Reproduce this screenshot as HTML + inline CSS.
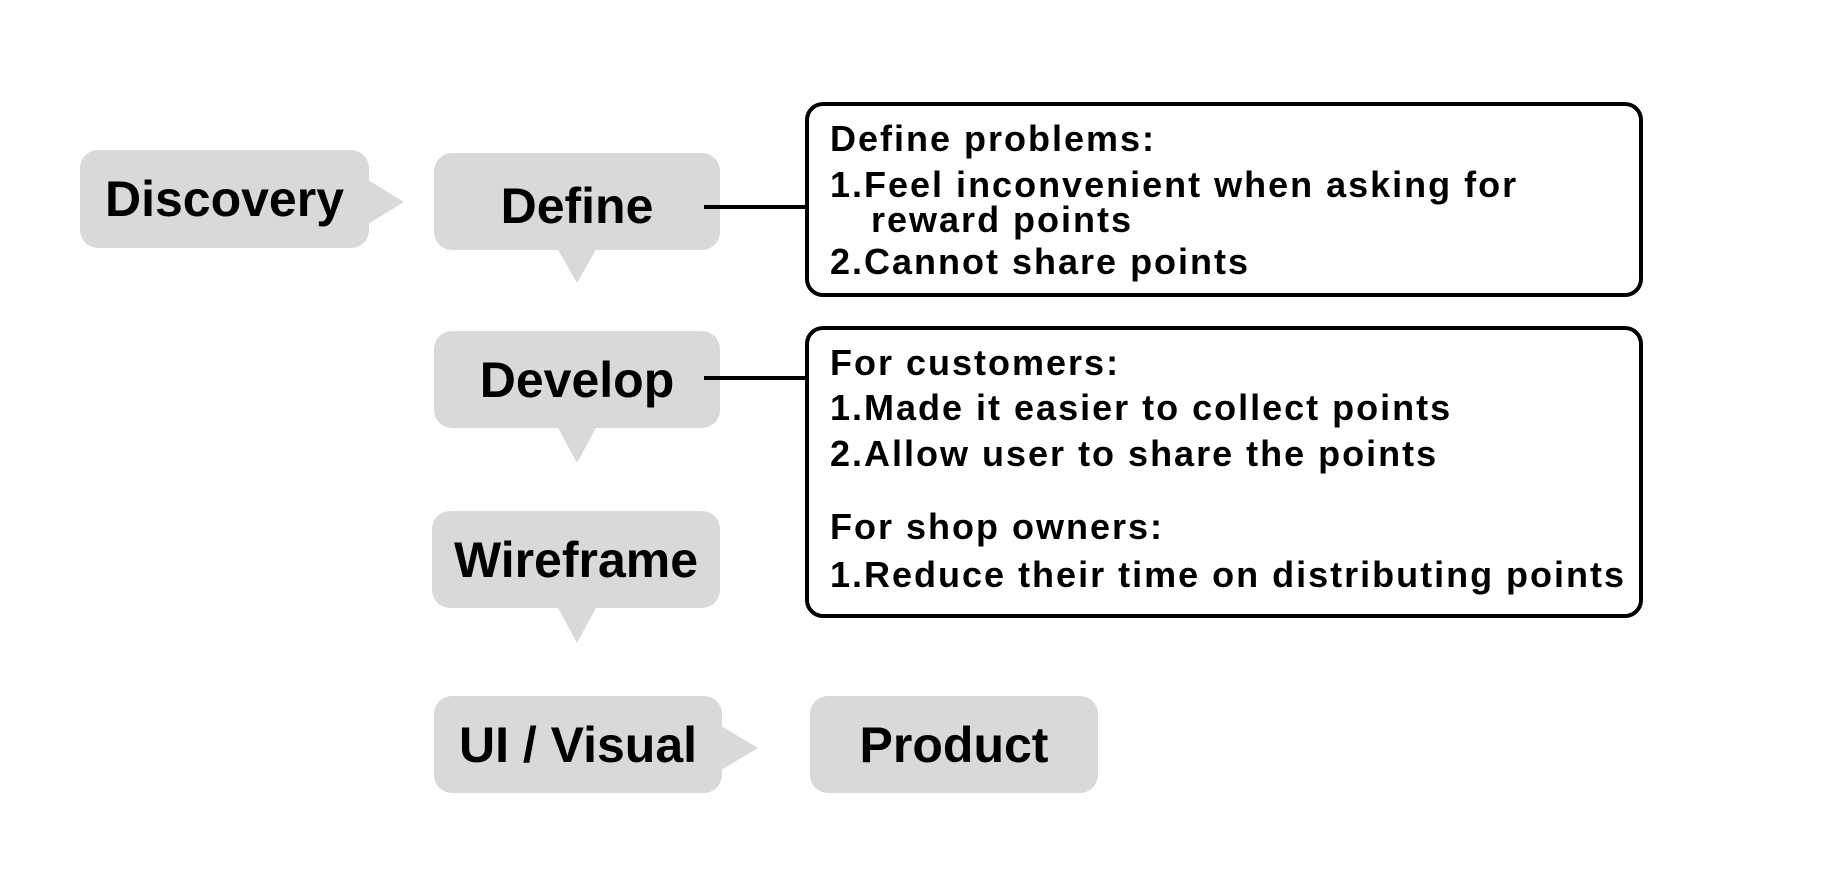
<!DOCTYPE html>
<html><head><style>
body{margin:0;width:1843px;height:883px;background:#fff;position:relative;overflow:hidden;font-family:"Liberation Sans",sans-serif;font-weight:bold;}
.n{position:absolute;background:#d9d9d9;border-radius:18px;font-size:50px;color:#000;display:flex;align-items:center;justify-content:center;}
.t{position:absolute;font-size:36px;line-height:40px;letter-spacing:2px;white-space:nowrap;color:#000;}
.b{position:absolute;border:4px solid #000;border-radius:18px;box-sizing:border-box;}
</style></head><body>
<div class="n" style="left:80px;top:150px;width:289px;height:98px">Discovery</div>
<div class="n" style="left:434px;top:153px;width:286px;height:97px;padding-top:8px;box-sizing:border-box">Define</div>
<div class="n" style="left:434px;top:331px;width:286px;height:97px">Develop</div>
<div class="n" style="left:432px;top:511px;width:288px;height:97px">Wireframe</div>
<div class="n" style="left:434px;top:696px;width:288px;height:97px">UI / Visual</div>
<div class="n" style="left:810px;top:696px;width:288px;height:97px">Product</div>
<svg width="1843" height="883" style="position:absolute;left:0;top:0">
<g fill="#d9d9d9">
<polygon points="368,180 404,202 368,224"/>
<polygon points="557,248 597,248 577,283"/>
<polygon points="557,426 597,426 577,463"/>
<polygon points="557,606 597,606 577,643"/>
<polygon points="721,726 758,748 721,770"/>
</g>
<line x1="704" y1="207" x2="807" y2="207" stroke="#000" stroke-width="4"/>
<line x1="704" y1="378" x2="807" y2="378" stroke="#000" stroke-width="4"/>
</svg>
<div class="b" style="left:805px;top:102px;width:838px;height:195px"></div>
<div class="b" style="left:805px;top:326px;width:838px;height:292px"></div>
<div class="t" style="left:830px;top:119px">Define problems:</div>
<div class="t" style="left:830px;top:165px">1.Feel inconvenient when asking for</div>
<div class="t" style="left:871px;top:200px">reward points</div>
<div class="t" style="left:830px;top:242px">2.Cannot share points</div>
<div class="t" style="left:830px;top:343px">For customers:</div>
<div class="t" style="left:830px;top:388px">1.Made it easier to collect points</div>
<div class="t" style="left:830px;top:434px">2.Allow user to share the points</div>
<div class="t" style="left:830px;top:507px">For shop owners:</div>
<div class="t" style="left:830px;top:555px">1.Reduce their time on distributing points</div>
</body></html>
